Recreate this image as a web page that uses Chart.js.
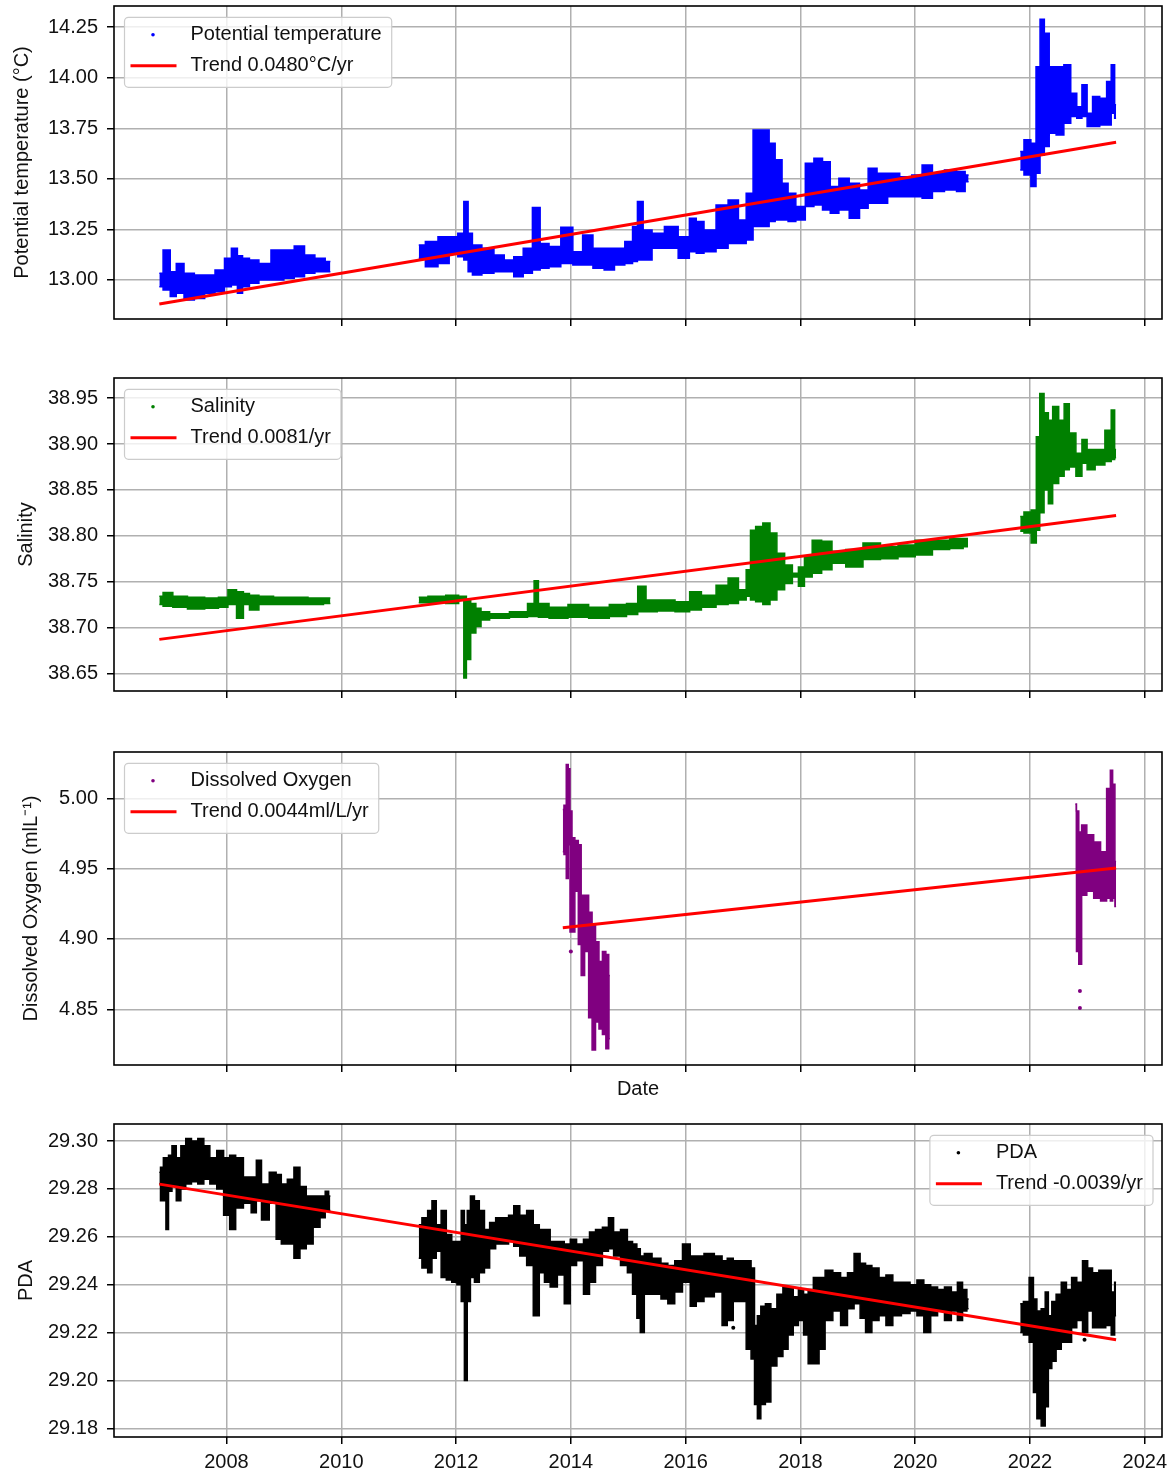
<!DOCTYPE html>
<html>
<head>
<meta charset="utf-8">
<title>Mooring time series</title>
<script src="https://cdn.jsdelivr.net/npm/chart.js@4.4.1/dist/chart.umd.min.js"></script>
<style>
  html, body { margin: 0; padding: 0; background: #fff; }
  body { position: relative; width: 1173px; height: 1474px; overflow: hidden; }
  canvas { position: absolute; left: 0; }
</style>
</head>
<body>
<canvas id="tempChart" width="1173" height="339" style="top:0px"></canvas>
<canvas id="salChart" width="1173" height="351" style="top:360px"></canvas>
<canvas id="oxyChart" width="1173" height="375" style="top:730px"></canvas>
<canvas id="pdaChart" width="1173" height="364" style="top:1110px"></canvas>
<script>
// --- shared axis ---
const xTickYears = [2008, 2010, 2012, 2014, 2016, 2018, 2020, 2022, 2024];

// --- potential temperature: upper / lower envelope of the hourly record (null = no data) ---
const tempYears = [
  2006.83, 2006.96, 2007.08, 2007.17, 2007.35, 2007.53, 2007.71, 2007.89, 2008.04, 2008.13,
  2008.25, 2008.31, 2008.49, 2008.64, 2008.91, 2009.09, 2009.27, 2009.45, 2009.63, 2009.81,
  2010.60,
  2011.35, 2011.58, 2011.79, 2011.97, 2012.09, 2012.18, 2012.24, 2012.33, 2012.57, 2012.75,
  2012.93, 2013.08, 2013.26, 2013.40, 2013.53, 2013.71, 2013.94, 2014.13, 2014.28, 2014.49,
  2014.67, 2014.85, 2015.03, 2015.12, 2015.20, 2015.32, 2015.51, 2015.75, 2015.99, 2016.14,
  2016.23, 2016.41, 2016.65, 2016.83, 2017.01, 2017.10, 2017.25, 2017.41, 2017.50, 2017.62,
  2017.74, 2017.83, 2018.01, 2018.16, 2018.31, 2018.46, 2018.58, 2018.76, 2018.94, 2019.12,
  2019.24, 2019.43, 2019.61, 2019.85, 2020.03, 2020.21, 2020.39, 2020.63, 2020.81, 2020.93,
  2021.40,
  2021.83, 2021.96, 2022.07, 2022.14, 2022.21, 2022.29, 2022.38, 2022.53, 2022.65, 2022.77,
  2022.86, 2022.95, 2023.04, 2023.14, 2023.29, 2023.38, 2023.45, 2023.50
];
const tempHigh = [
  13.033, 13.148, 13.041, 13.082, 13.033, 13.025, 13.025, 13.049, 13.107, 13.157,
  13.120, 13.107, 13.099, 13.082, 13.148, 13.148, 13.168, 13.124, 13.107, 13.091,
  null,
  13.173, 13.190, 13.214, 13.214, 13.231, 13.388, 13.231, 13.173, 13.157, 13.124,
  13.099, 13.115, 13.157, 13.359, 13.181, 13.165, 13.261, 13.140, 13.223, 13.157,
  13.157, 13.157, 13.190, 13.264, 13.388, 13.247, 13.231, 13.264, 13.214, 13.305,
  13.289, 13.247, 13.371, 13.396, 13.297, 13.429, 13.742, 13.742, 13.676, 13.594,
  13.478, 13.429, 13.363, 13.577, 13.602, 13.585, 13.462, 13.503, 13.478, 13.445,
  13.552, 13.528, 13.528, 13.511, 13.519, 13.569, 13.528, 13.544, 13.536, 13.519,
  null,
  13.635, 13.693, 13.676, 14.055, 14.290, 14.220, 14.055, 14.055, 14.064, 13.923,
  13.857, 13.965, 13.825, 13.907, 13.899, 13.981, 14.064, 13.866
];
const tempLow = [
  12.967, 12.951, 12.918, 12.934, 12.901, 12.909, 12.934, 12.942, 12.967, 12.975,
  12.934, 12.967, 12.984, 13.000, 13.000, 13.008, 13.016, 13.033, 13.041, 13.041,
  null,
  13.107, 13.066, 13.082, 13.132, 13.115, 13.099, 13.041, 13.025, 13.033, 13.041,
  13.041, 13.016, 13.033, 13.049, 13.058, 13.066, 13.082, 13.074, 13.074, 13.058,
  13.049, 13.074, 13.082, 13.091, 13.099, 13.099, 13.157, 13.157, 13.107, 13.140,
  13.132, 13.140, 13.157, 13.181, 13.181, 13.198, 13.264, 13.264, 13.289, 13.297,
  13.297, 13.289, 13.297, 13.363, 13.371, 13.346, 13.330, 13.346, 13.305, 13.355,
  13.379, 13.379, 13.412, 13.412, 13.412, 13.404, 13.437, 13.445, 13.437, 13.486,
  null,
  13.544, 13.519, 13.462, 13.528, 13.618, 13.660, 13.726, 13.717, 13.775, 13.808,
  13.800, 13.808, 13.759, 13.759, 13.767, 13.767, 13.825, 13.800
];
const tempTicks = [13.00, 13.25, 13.50, 13.75, 14.00, 14.25];
const tempTrendYears = [2006.83, 2023.50];
const tempTrendStart = 12.881;
const tempSlope = 0.0480;

// --- salinity ---
const salYears = [
  2006.83, 2006.96, 2007.17, 2007.47, 2007.77, 2007.95, 2008.10, 2008.25, 2008.34, 2008.46,
  2008.67, 2008.97, 2009.27, 2009.57, 2009.81,
  2010.60,
  2011.35, 2011.67, 2011.97, 2012.12, 2012.15, 2012.21, 2012.30, 2012.39, 2012.48, 2012.69,
  2013.17, 2013.32, 2013.40, 2013.47, 2013.77, 2014.13, 2014.49, 2014.85, 2015.09, 2015.24,
  2015.38, 2015.63, 2016.00, 2016.14, 2016.41, 2016.65, 2016.83, 2017.01, 2017.10, 2017.16,
  2017.28, 2017.41, 2017.53, 2017.65, 2017.80, 2017.92, 2018.01, 2018.13, 2018.28, 2018.46,
  2018.64, 2018.94, 2019.24, 2019.55, 2019.85, 2020.15, 2020.45, 2020.75, 2020.92,
  2021.40,
  2021.83, 2021.96, 2022.08, 2022.14, 2022.20, 2022.29, 2022.35, 2022.44, 2022.56, 2022.63,
  2022.74, 2022.86, 2022.95, 2023.04, 2023.23, 2023.38, 2023.45, 2023.50
];
const salHigh = [
  38.734, 38.738, 38.734, 38.733, 38.732, 38.733, 38.741, 38.739, 38.737, 38.735,
  38.734, 38.733, 38.733, 38.732, 38.732,
  null,
  38.733, 38.734, 38.735, 38.734, 38.734, 38.730, 38.726, 38.721, 38.717, 38.715,
  38.717, 38.726, 38.751, 38.726, 38.722, 38.725, 38.722, 38.725, 38.726, 38.745,
  38.730, 38.730, 38.728, 38.739, 38.735, 38.746, 38.754, 38.741, 38.763, 38.806,
  38.810, 38.814, 38.803, 38.781, 38.768, 38.759, 38.766, 38.777, 38.795, 38.794,
  38.783, 38.785, 38.792, 38.788, 38.790, 38.795, 38.795, 38.797, 38.797,
  null,
  38.821, 38.826, 38.828, 38.908, 38.955, 38.934, 38.926, 38.941, 38.926, 38.944,
  38.912, 38.890, 38.905, 38.894, 38.894, 38.915, 38.937, 38.894
];
const salLow = [
  38.725, 38.723, 38.722, 38.720, 38.721, 38.722, 38.725, 38.710, 38.725, 38.719,
  38.725, 38.725, 38.725, 38.725, 38.726,
  null,
  38.727, 38.727, 38.726, 38.730, 38.645, 38.665, 38.694, 38.701, 38.708, 38.710,
  38.711, 38.712, 38.712, 38.711, 38.710, 38.711, 38.710, 38.712, 38.714, 38.717,
  38.717, 38.718, 38.717, 38.719, 38.722, 38.725, 38.726, 38.730, 38.734, 38.730,
  38.728, 38.725, 38.730, 38.741, 38.748, 38.755, 38.745, 38.755, 38.759, 38.763,
  38.770, 38.766, 38.774, 38.775, 38.777, 38.779, 38.785, 38.786, 38.788,
  null,
  38.805, 38.803, 38.792, 38.806, 38.825, 38.850, 38.835, 38.857, 38.865, 38.872,
  38.875, 38.865, 38.879, 38.872, 38.877, 38.881, 38.883, 38.885
];
const salTicks = [38.65, 38.70, 38.75, 38.80, 38.85, 38.90, 38.95];
const salTrendYears = [2006.83, 2023.50];
const salTrendStart = 38.687;
const salSlope = 0.0081;

// --- dissolved oxygen (two deployments only) ---
const oxyYears = [
  2013.86, 2013.90, 2013.94, 2013.97, 2014.00, 2014.04, 2014.10, 2014.16, 2014.20, 2014.28,
  2014.34, 2014.40, 2014.46, 2014.52, 2014.58, 2014.64, 2014.68,
  2018.70,
  2022.79, 2022.83, 2022.87, 2022.93, 2023.05, 2023.17, 2023.29, 2023.38, 2023.42, 2023.46,
  2023.50
];
const oxyHigh = [
  4.992, 4.995, 5.024, 5.021, 4.991, 4.972, 4.970, 4.967, 4.931, 4.931,
  4.919, 4.910, 4.898, 4.884, 4.891, 4.889, 4.874,
  null,
  4.996, 4.991, 4.976, 4.981, 4.974, 4.969, 4.962, 5.007, 5.020, 5.010,
  4.955
];
const oxyLow = [
  4.962, 4.960, 4.943, 4.967, 4.905, 4.905, 4.934, 4.896, 4.874, 4.891,
  4.844, 4.821, 4.841, 4.836, 4.832, 4.822, 4.829,
  null,
  4.948, 4.891, 4.882, 4.931, 4.934, 4.929, 4.927, 4.929, 4.927, 4.929,
  4.923
];
const oxyOutYears = [2014.00, 2022.87, 2022.87];
const oxyOutValues = [4.891, 4.863, 4.851];
const oxyTicks = [4.85, 4.90, 4.95, 5.00];
const oxyTrendYears = [2013.86, 2023.50];
const oxyTrendStart = 4.908;
const oxySlope = 0.0044;

// --- potential density anomaly ---
const pdaYears = [
  2006.83, 2006.87, 2006.93, 2006.96, 2007.02, 2007.08, 2007.17, 2007.24, 2007.34, 2007.44,
  2007.56, 2007.65, 2007.77, 2007.89, 2008.01, 2008.10, 2008.22, 2008.37, 2008.49, 2008.55,
  2008.67, 2008.82, 2008.91, 2009.00, 2009.12, 2009.23, 2009.33, 2009.45, 2009.57, 2009.69,
  2009.75, 2009.81,
  2010.60,
  2011.35, 2011.46, 2011.55, 2011.61, 2011.70, 2011.78, 2011.88, 2011.97, 2012.06, 2012.12,
  2012.17, 2012.22, 2012.28, 2012.36, 2012.45, 2012.54, 2012.63, 2012.75, 2012.87, 2012.96,
  2013.05, 2013.17, 2013.29, 2013.40, 2013.50, 2013.58, 2013.70, 2013.83, 2013.94, 2014.04,
  2014.16, 2014.28, 2014.37, 2014.49, 2014.61, 2014.70, 2014.79, 2014.94, 2015.03, 2015.12,
  2015.18, 2015.24, 2015.32, 2015.51, 2015.63, 2015.75, 2015.87, 2016.02, 2016.14, 2016.23,
  2016.41, 2016.59, 2016.68, 2016.77, 2016.89, 2017.01, 2017.10, 2017.18, 2017.22, 2017.28,
  2017.34, 2017.44, 2017.53, 2017.65, 2017.74, 2017.83, 2017.92, 2018.01, 2018.10, 2018.17,
  2018.28, 2018.37, 2018.49, 2018.64, 2018.76, 2018.88, 2018.99, 2019.09, 2019.18, 2019.31,
  2019.43, 2019.55, 2019.67, 2019.85, 2019.97, 2020.09, 2020.21, 2020.33, 2020.45, 2020.57,
  2020.69, 2020.78, 2020.87, 2020.93,
  2021.40,
  2021.83, 2021.94, 2022.03, 2022.09, 2022.15, 2022.24, 2022.29, 2022.35, 2022.41, 2022.50,
  2022.59, 2022.68, 2022.77, 2022.86, 2022.97, 2023.04, 2023.14, 2023.26, 2023.38, 2023.45,
  2023.50
];
const pdaHigh = [
  29.287, 29.289, 29.293, 29.293, 29.294, 29.298, 29.293, 29.298, 29.301, 29.300,
  29.301, 29.298, 29.293, 29.296, 29.293, 29.294, 29.293, 29.285, 29.285, 29.292,
  29.282, 29.287, 29.286, 29.282, 29.284, 29.289, 29.281, 29.277, 29.277, 29.277,
  29.279, 29.277,
  null,
  29.265, 29.268, 29.271, 29.275, 29.265, 29.271, 29.261, 29.258, 29.258, 29.271,
  29.265, 29.271, 29.277, 29.275, 29.271, 29.263, 29.266, 29.268, 29.268, 29.269,
  29.273, 29.269, 29.271, 29.265, 29.263, 29.263, 29.258, 29.258, 29.257, 29.259,
  29.257, 29.259, 29.262, 29.263, 29.264, 29.268, 29.262, 29.263, 29.258, 29.257,
  29.255, 29.252, 29.253, 29.251, 29.249, 29.248, 29.250, 29.257, 29.252, 29.252,
  29.253, 29.252, 29.250, 29.251, 29.250, 29.250, 29.250, 29.247, 29.223, 29.227,
  29.231, 29.232, 29.230, 29.236, 29.239, 29.239, 29.235, 29.238, 29.236, 29.238,
  29.243, 29.243, 29.246, 29.245, 29.243, 29.245, 29.253, 29.249, 29.248, 29.247,
  29.243, 29.244, 29.241, 29.241, 29.240, 29.242, 29.240, 29.239, 29.238, 29.239,
  29.237, 29.241, 29.238, 29.234,
  null,
  29.232, 29.233, 29.243, 29.234, 29.229, 29.230, 29.237, 29.227, 29.233, 29.236,
  29.241, 29.238, 29.243, 29.241, 29.250, 29.247, 29.245, 29.246, 29.246, 29.237,
  29.241
];
const pdaLow = [
  29.282, 29.275, 29.275, 29.263, 29.279, 29.281, 29.275, 29.280, 29.282, 29.283,
  29.282, 29.284, 29.282, 29.280, 29.269, 29.263, 29.272, 29.274, 29.270, 29.275,
  29.267, 29.274, 29.259, 29.257, 29.257, 29.251, 29.255, 29.257, 29.264, 29.268,
  29.271, 29.271,
  null,
  29.251, 29.247, 29.245, 29.251, 29.254, 29.243, 29.242, 29.241, 29.240, 29.233,
  29.200, 29.233, 29.243, 29.241, 29.245, 29.247, 29.255, 29.257, 29.257, 29.258,
  29.256, 29.252, 29.248, 29.227, 29.245, 29.241, 29.239, 29.244, 29.232, 29.248,
  29.250, 29.236, 29.241, 29.248, 29.254, 29.255, 29.252, 29.248, 29.245, 29.236,
  29.226, 29.220, 29.236, 29.236, 29.234, 29.232, 29.237, 29.241, 29.231, 29.233,
  29.235, 29.237, 29.223, 29.225, 29.233, 29.233, 29.213, 29.209, 29.190, 29.184,
  29.190, 29.191, 29.206, 29.210, 29.213, 29.219, 29.223, 29.225, 29.219, 29.207,
  29.207, 29.213, 29.225, 29.229, 29.223, 29.230, 29.232, 29.226, 29.220, 29.225,
  29.227, 29.223, 29.227, 29.228, 29.229, 29.227, 29.220, 29.227, 29.229, 29.225,
  29.229, 29.225, 29.229, 29.230,
  null,
  29.220, 29.219, 29.216, 29.195, 29.184, 29.181, 29.189, 29.205, 29.208, 29.213,
  29.216, 29.216, 29.222, 29.225, 29.220, 29.229, 29.222, 29.222, 29.223, 29.219,
  29.227
];
const pdaOutYears = [2016.83, 2022.95];
const pdaOutValues = [29.222, 29.217];
const pdaTicks = [29.18, 29.20, 29.22, 29.24, 29.26, 29.28, 29.30];
const pdaTrendYears = [2006.83, 2023.50];
const pdaTrendStart = 29.282;
const pdaSlope = -0.0039;

// --- styling ---
const FONT = '"Liberation Sans", Arial, Helvetica, sans-serif';
const FONT_SIZE = 20;
const TEXT = '#111111';
const GRID = '#b0b0b0';
const TREND_RED = '#ff0000';
const X_MIN = 2006.04;
const X_MAX = 2024.30;
const AXIS_W = 114;   // y axis box width, keeps the four plots aligned

function pairs(xs, ys) {
  return xs.map((x, i) => ({ x: x, y: ys[i] }));
}

// straight fitted line from its start value and slope per year
function trendPoints(years, start, slope) {
  return years.map(t => ({ x: t, y: start + slope * (t - years[0]) }));
}

// black box around the plot area
const frameBox = {
  id: 'frameBox',
  afterDraw(chart) {
    const { ctx, chartArea: a } = chart;
    ctx.save();
    ctx.strokeStyle = '#000';
    ctx.lineWidth = 1.6;
    ctx.strokeRect(a.left, a.top, a.right - a.left, a.bottom - a.top);
    ctx.restore();
  }
};

// legend drawn inside the plot, framed like a matplotlib legend
function boxLegend(items, side) {
  return {
    id: 'boxLegend',
    afterDraw(chart) {
      const { ctx, chartArea: a } = chart;
      ctx.save();
      ctx.font = FONT_SIZE + 'px ' + FONT;
      const textW = Math.max(...items.map(it => ctx.measureText(it.text).width));
      const w = 66 + textW + 10;
      const h = 70;
      const x = side === 'right' ? a.right - 9 - w : a.left + 10.5;
      const y = a.top + 11.3;

      ctx.beginPath();
      ctx.roundRect(x, y, w, h, 4);
      ctx.fillStyle = 'rgba(255,255,255,0.8)';
      ctx.fill();
      ctx.strokeStyle = '#cccccc';
      ctx.lineWidth = 1.2;
      ctx.stroke();

      items.forEach((it, i) => {
        const cy = y + 17.5 + i * 31;
        if (it.kind === 'dot') {
          ctx.beginPath();
          ctx.arc(x + 28.5, cy, 1.8, 0, Math.PI * 2);
          ctx.fillStyle = it.color;
          ctx.fill();
        } else {
          ctx.beginPath();
          ctx.moveTo(x + 6, cy);
          ctx.lineTo(x + 52, cy);
          ctx.strokeStyle = it.color;
          ctx.lineWidth = 3;
          ctx.stroke();
        }
        ctx.fillStyle = TEXT;
        ctx.textBaseline = 'middle';
        ctx.textAlign = 'left';
        ctx.fillText(it.text, x + 66, cy);
      });
      ctx.restore();
    }
  };
}

function makePanel(id, o) {
  // the record is drawn as a filled band between its upper and lower envelope
  const band = {
    borderColor: o.color,
    borderWidth: 1.5,
    pointRadius: 0,
    spanGaps: false,
    stepped: 'middle',
    order: 2
  };
  const datasets = [
    {
      label: o.trendLabel,
      data: trendPoints(o.trendYears, o.trendStart, o.slope),
      borderColor: TREND_RED,
      borderWidth: 3,
      pointRadius: 0,
      fill: false,
      order: 0
    },
    Object.assign({}, band, {
      label: o.label,
      data: pairs(o.years, o.high),
      backgroundColor: o.color,
      fill: '+1'
    }),
    Object.assign({}, band, {
      label: o.label + ' (min)',
      data: pairs(o.years, o.low),
      fill: false
    })
  ];
  if (o.outYears) {
    datasets.push({
      type: 'scatter',
      label: o.label + ' (isolated)',
      data: pairs(o.outYears, o.outValues),
      backgroundColor: o.color,
      borderWidth: 0,
      pointRadius: 2,
      order: 1
    });
  }

  const tickFont = { family: FONT, size: FONT_SIZE, lineHeight: 1.2 };

  return new Chart(document.getElementById(id), {
    type: 'line',
    data: { datasets: datasets },
    options: {
      responsive: false,
      animation: false,
      events: [],
      layout: { padding: { top: o.padTop, right: 11, bottom: 0, left: 0 } },
      plugins: {
        legend: { display: false },
        tooltip: { enabled: false }
      },
      scales: {
        x: {
          type: 'linear',
          min: X_MIN,
          max: X_MAX,
          afterBuildTicks: s => { s.ticks = xTickYears.map(v => ({ value: v })); },
          afterFit: s => {
            s.height = o.xAxisHeight;
            s.paddingLeft = 0;
            s.paddingRight = 0;
          },
          border: { display: false },
          grid: {
            color: GRID,
            lineWidth: 1.5,
            drawTicks: true,
            tickLength: 7,
            tickColor: '#000',
            tickWidth: 1.5
          },
          ticks: {
            display: !!o.showYears,
            padding: 6,
            color: TEXT,
            font: tickFont,
            maxRotation: 0,
            callback: v => String(v)
          },
          title: {
            display: !!o.xTitle,
            text: o.xTitle || '',
            color: TEXT,
            font: tickFont,
            padding: { top: 0, bottom: 4 }
          }
        },
        y: {
          type: 'linear',
          min: o.yMin,
          max: o.yMax,
          afterBuildTicks: s => { s.ticks = o.yTicks.map(v => ({ value: v })); },
          afterFit: s => {
            s.width = AXIS_W;
            s.paddingTop = 0;
            s.paddingBottom = 0;
          },
          border: { display: false },
          grid: {
            color: GRID,
            lineWidth: 1.5,
            drawTicks: true,
            tickLength: 7,
            tickColor: '#000',
            tickWidth: 1.5
          },
          ticks: {
            padding: 9,
            color: TEXT,
            font: tickFont,
            callback: v => Number(v).toFixed(2)
          },
          title: {
            display: true,
            text: o.yTitle,
            color: TEXT,
            font: tickFont,
            padding: { top: o.yTitlePad, bottom: 0 }
          }
        }
      }
    },
    plugins: [
      boxLegend([
        { kind: 'dot', color: o.color, text: o.label },
        { kind: 'line', color: TREND_RED, text: o.trendLabel }
      ], o.legendSide),
      frameBox
    ]
  });
}

makePanel('tempChart', {
  label: 'Potential temperature',
  trendLabel: 'Trend ' + tempSlope.toFixed(4) + '°C/yr',
  color: '#0000ff',
  years: tempYears, high: tempHigh, low: tempLow,
  trendYears: tempTrendYears, trendStart: tempTrendStart, slope: tempSlope,
  yTicks: tempTicks, yMin: 12.807, yMax: 14.355,
  yTitle: 'Potential temperature (°C)', yTitlePad: 10.7,
  padTop: 6, xAxisHeight: 20, legendSide: 'left'
});

makePanel('salChart', {
  label: 'Salinity',
  trendLabel: 'Trend ' + salSlope.toFixed(4) + '/yr',
  color: '#008000',
  years: salYears, high: salHigh, low: salLow,
  trendYears: salTrendYears, trendStart: salTrendStart, slope: salSlope,
  yTicks: salTicks, yMin: 38.6307, yMax: 38.972,
  yTitle: 'Salinity', yTitlePad: 14,
  padTop: 18, xAxisHeight: 20, legendSide: 'left'
});

makePanel('oxyChart', {
  label: 'Dissolved Oxygen',
  trendLabel: 'Trend ' + oxySlope.toFixed(4) + 'ml/L/yr',
  color: '#800080',
  years: oxyYears, high: oxyHigh, low: oxyLow,
  outYears: oxyOutYears, outValues: oxyOutValues,
  trendYears: oxyTrendYears, trendStart: oxyTrendStart, slope: oxySlope,
  yTicks: oxyTicks, yMin: 4.8104, yMax: 5.0329,
  yTitle: 'Dissolved Oxygen (mlL⁻¹)', yTitlePad: 19.7,
  padTop: 22, xAxisHeight: 40, xTitle: 'Date', legendSide: 'left'
});

makePanel('pdaChart', {
  label: 'PDA',
  trendLabel: 'Trend ' + pdaSlope.toFixed(4) + '/yr',
  color: '#000000',
  years: pdaYears, high: pdaHigh, low: pdaLow,
  outYears: pdaOutYears, outValues: pdaOutValues,
  trendYears: pdaTrendYears, trendStart: pdaTrendStart, slope: pdaSlope,
  yTicks: pdaTicks, yMin: 29.1764, yMax: 29.3071,
  yTitle: 'PDA', yTitlePad: 14,
  padTop: 14, xAxisHeight: 37, showYears: true, legendSide: 'right'
});
</script>
</body>
</html>
